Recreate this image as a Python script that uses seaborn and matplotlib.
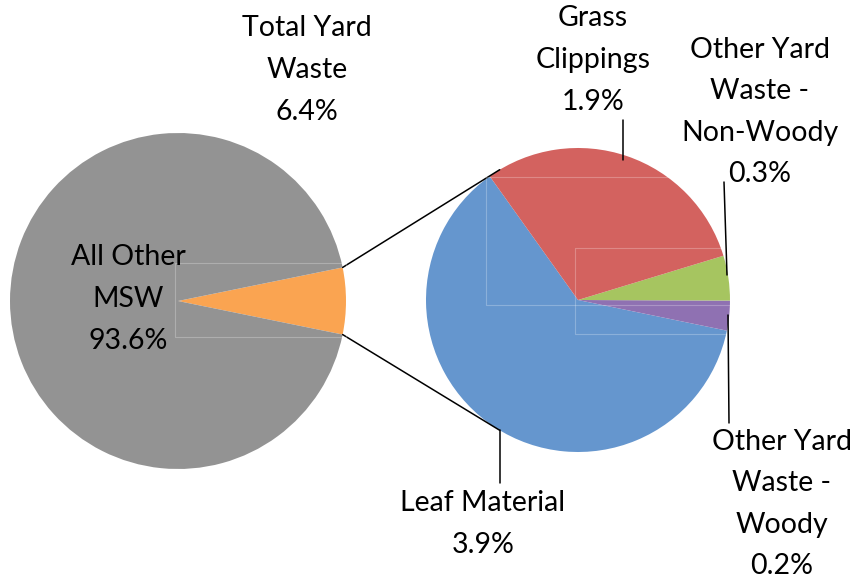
import matplotlib
matplotlib.use("Agg")
import matplotlib.pyplot as plt
import seaborn as sns
import numpy as np

sns.set_theme(style="white")
plt.rcParams['font.family'] = ['Lato', 'DejaVu Sans']

# ---- data ----
main_labels = ["Total Yard\nWaste", "All Other\nMSW"]
main_values = [6.4, 93.6]
main_colors = ["#FAA451", "#939393"]

sub_labels = ["Leaf Material", "Other Yard\nWaste -\nWoody", "Other Yard\nWaste -\nNon-Woody", "Grass\nClippings"]
sub_values = [3.9, 0.2, 0.3, 1.9]
sub_colors = ["#6596CE", "#8F71B2", "#A6C560", "#D3625F"]

W, H = 857, 578
fig = plt.figure(figsize=(W / 100, H / 100), dpi=100)
ax = fig.add_axes([0, 0, 1, 1])

# left pie
c1 = (178, 277)
r1 = 168
frac_yard = main_values[0] / sum(main_values)
half = 180 * frac_yard
ax.pie(main_values, colors=main_colors, startangle=-half, center=c1, radius=r1,
       wedgeprops=dict(linewidth=0), frame=True)

# right pie
c2 = (578, 278)
r2 = 152
start2 = 125.5
ax.pie(sub_values, colors=sub_colors, startangle=start2, center=c2, radius=r2,
       wedgeprops=dict(linewidth=0), frame=True)
ax.set_xlim(0, W)
ax.set_ylim(0, H)
ax.set_aspect("equal")
ax.axis("off")

# connector lines
a = np.deg2rad(half)
b = np.deg2rad(121)
for s in (1, -1):
    p1 = (c1[0] + r1 * np.cos(a), c1[1] + s * r1 * np.sin(a))
    p2 = (c2[0] + r2 * np.cos(b), c2[1] + s * r2 * np.sin(b))
    ax.plot([p1[0], p2[0]], [p1[1], p2[1]], color="black", lw=1.1)

# faint label frames (as in reference)
frames = [(175, 263, 346, 337), (486, 177, 730, 305), (575, 248, 730, 334)]
for x0, y0, x1, y1 in frames:
    ax.plot([x0, x1, x1, x0, x0], [H - y0, H - y0, H - y1, H - y1, H - y0],
            color="white", alpha=0.25, lw=0.8)

fs = 20.5
ls = 1.74
def lab(x, y, txt):
    ax.text(x, H - y, txt, ha="center", va="center", fontsize=fs,
            linespacing=ls, color="black")

lab(307, 70, f"{main_labels[0]}\n{main_values[0]}%")
lab(128, 299, f"{main_labels[1]}\n{main_values[1]}%")
lab(483, 524, f"{sub_labels[0]}\n{sub_values[0]}%")
lab(782, 504, f"{sub_labels[1]}\n{sub_values[1]}%")
lab(760, 112, f"{sub_labels[2]}\n{sub_values[2]}%")
lab(593, 60, f"{sub_labels[3]}\n{sub_values[3]}%")

# leader lines
leaders = [((623, 120), (623, 160)),   # grass
           ((724, 182), (727, 275)),   # non-woody
           ((728, 315), (729, 423)),   # woody
           ((500, 430), (500, 483))]   # leaf
for (x0, y0), (x1, y1) in leaders:
    ax.plot([x0, x1], [H - y0, H - y1], color="black", lw=1.1)

fig.savefig("out.png", dpi=100)
